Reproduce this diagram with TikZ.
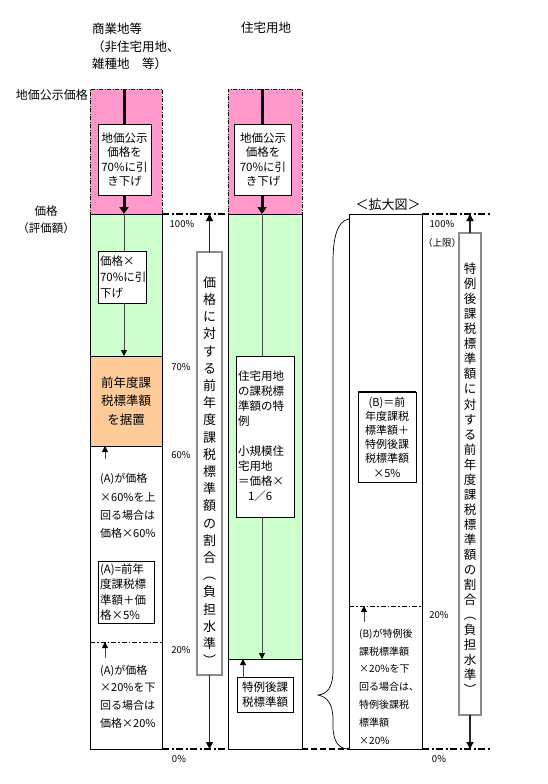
\documentclass[tikz,border=0pt]{standalone}
\usepackage{fontspec}
\setmainfont{Noto Sans CJK JP}
\usetikzlibrary{arrows.meta}
\definecolor{pinkc}{RGB}{255,153,204}
\definecolor{greenc}{RGB}{204,255,204}
\definecolor{orangec}{RGB}{255,204,153}
\definecolor{linegray}{RGB}{70,70,70}
\definecolor{vgray}{RGB}{140,140,140}
\newcommand{\fsz}[2]{\fontsize{#1}{#2}\selectfont}
\tikzset{
  region/.style={draw=black, line width=0.7pt, anchor=north west, inner sep=0pt, outer sep=0pt},
  pinkregion/.style={region, fill=pinkc, dash pattern=on 4pt off 1.5pt on 1pt off 1.5pt},
  txtbox/.style={draw=black, line width=0.7pt, fill=white, inner sep=0pt, font=\fsz{11.5}{14.5}},
  freetext/.style={inner sep=0pt, align=left, anchor=west},
  pct/.style={inner sep=0pt, font=\fsz{9.5}{12}},
  vbox/.style={draw=black!80, line width=0.4pt, double=vgray, double distance=1.6pt, fill=white, inner sep=0pt},
  vtext/.style={inner sep=0pt, align=center},
  bigarr/.style={line width=3pt, -{Triangle[length=7pt,width=9pt]}},
  bigline/.style={line width=3pt},
  thinline/.style={line width=0.9pt, draw=linegray},
  thinarr/.style={line width=0.9pt, draw=linegray, -{Triangle[length=6pt,width=6pt,color=black]}},
  axisarr/.style={line width=1.2pt, draw=black!85, -{Triangle[length=7pt,width=7pt,color=black]}},
  levelline/.style={line width=1.6pt, dash pattern=on 7pt off 2.5pt on 2pt off 2.5pt},
  thinlevel/.style={line width=0.7pt, dash pattern=on 5pt off 2pt on 1.5pt off 2pt},
  dashline/.style={line width=1.6pt, dash pattern=on 6pt off 3pt}
}
\begin{document}
\begin{tikzpicture}[x=1pt,y=-1pt]
\useasboundingbox (0,0) rectangle (548,784);
\fill[white] (0,0) rectangle (548,784);

% headers
\node[freetext, font=\fsz{12.5}{17.5}] (hdrL) at (92,46.5) {商業地等\\（非住宅用地、\\雑種地　等）};
\node[font=\fsz{12.5}{15}, inner sep=0pt] (hdrM) at (266,28) {住宅用地};
\node[anchor=east, font=\fsz{12}{15}, inner sep=0pt] (lblLP) at (88,95) {地価公示価格};
\node[font=\fsz{11.5}{17}, inner sep=0pt, align=center] (lblP) at (46,219.5) {価格\\（評価額）};

% left column
\node[pinkregion, minimum width=72, minimum height=125] (Lpink) at (90,89) {};
\node[region, fill=greenc, minimum width=72, minimum height=142] (Lgreen) at (90,214) {};
\node[region, fill=orangec, minimum width=72, minimum height=90] (Lorange) at (90,356) {};
\node[region, fill=white, minimum width=72, minimum height=303] (Lwhite) at (90,446) {};

\coordinate (Ltop) at (124,89);
\node[txtbox, minimum width=53, minimum height=71, align=center] (Lb1) at (124.5,159.5) {地価公示\\価格を\\70\%に引\\き下げ};
\draw[bigline] (Ltop) -- (Ltop |- Lb1.north);
\draw[bigarr] (Ltop |- Lb1.south) -- (Ltop |- Lgreen.north);
\node[txtbox, inner xsep=2pt, text width=44, minimum height=52, align=left, font=\fsz{11.5}{16}] (Lb2) at (122,277) {価格×\\70\%に引\\下げ};
\draw[thinline] (Ltop |- Lgreen.north) -- (Ltop |- Lb2.north);
\draw[thinarr] (Ltop |- Lb2.south) -- (Ltop |- Lorange.north);

\node[inner sep=0pt, align=center, font=\fsz{12.5}{18.5}] (Lotxt) at (126,401) {前年度課\\税標準額\\を据置};

\coordinate (LA1) at (105,459);
\draw[thinarr] (LA1) -- (LA1 |- Lorange.south);
\node[freetext, font=\fsz{11}{18.3}] (LtA) at (100,506) {(A)が価格\\×60\%を上\\回る場合は\\価格×60\%};

\node[txtbox, inner xsep=2pt, text width=52, minimum height=62, align=left, font=\fsz{11.5}{15.5}] (LbA) at (126,592) {(A)=前年\\度課税標\\準額＋価\\格×5\%};

\coordinate (L20) at (90,642);
\draw[thinlevel] (L20) -- (L20 -| Lwhite.east);
\coordinate (LA2) at (105,658);
\draw[thinarr] (LA2) -- (LA2 |- L20);
\node[freetext, font=\fsz{11}{17.7}] (LtB) at (100,696.5) {(A)が価格\\×20\%を下\\回る場合は\\価格×20\%};

% percentages left
\node[pct] (p100L) at (182,224) {100\%};
\node[pct] (p70) at (181,367) {70\%};
\node[pct] (p60) at (181,455) {60\%};
\node[pct] (p20L) at (181,650) {20\%};
\node[pct] (p0L) at (179,759) {0\%};

% middle column
\node[pinkregion, minimum width=74, minimum height=125] (Mpink) at (228,89) {};
\node[region, fill=greenc, minimum width=74, minimum height=445] (Mgreen) at (228,214) {};
\node[region, fill=white, minimum width=74, minimum height=90] (Mwhite) at (228,659) {};

\coordinate (Mtop) at (262,89);
\node[txtbox, minimum width=57, minimum height=71, align=center] (Mb1) at (263,159.5) {地価公示\\価格を\\70\%に引\\き下げ};
\draw[bigline] (Mtop) -- (Mtop |- Mb1.north);
\draw[bigarr] (Mtop |- Mb1.south) -- (Mtop |- Mgreen.north);
\node[txtbox, inner xsep=2pt, text width=54, minimum height=161, align=left, font=\fsz{11.5}{15}] (Mb2) at (265,436.5) {住宅用地\\の課税標\\準額の特\\例\\[15pt]小規模住\\宅用地\\＝価格×\\\hspace*{10pt}1／6};
\draw[thinline] (Mtop |- Mgreen.north) -- (Mtop |- Mb2.north);
\draw[thinarr] (Mtop |- Mb2.south) -- (Mtop |- Mwhite.north);

\node[txtbox, minimum width=56, minimum height=35, align=center, font=\fsz{11.5}{15}] (Mb3) at (265,694.5) {特例後課\\税標準額};
\coordinate (MA) at (243,0);
\draw[thinarr] (MA |- Mb3.north) -- (MA |- Mwhite.north);

% left vertical box
\node[vbox, minimum width=25, minimum height=423] (Lv) at (209.5,463.5) {};
\node[vtext, font=\fsz{13}{17.2}] (Lvt) at (209.5,471) {価\\格\\に\\対\\す\\る\\前\\年\\度\\課\\税\\標\\準\\額\\の\\割\\合\\︵\\負\\担\\水\\準\\︶};
\draw[axisarr] (Lv.north) -- (Lv.north |- Lgreen.north);
\draw[axisarr] (Lv.south) -- (Lv.south |- Lwhite.south);

% level lines left
\draw[levelline] (Lgreen.north east) -- (Mgreen.north west);
\draw[levelline] (Lwhite.south east) -- (Mwhite.south west);

% right enlarged view
\node[region, fill=white, minimum width=73, minimum height=535] (Rcol) at (349,214) {};
\node[font=\fsz{13}{15}, inner sep=0pt] (Rtitle) at (388,205) {＜拡大図＞};
\draw[line width=0.7pt] (349,219) .. controls (337,221) and (333,238) .. (333,262) -- (333,670) .. controls (333,688) and (327,694) .. (318,695) .. controls (327,697) and (333,703) .. (333,720) -- (333,726) .. controls (333,742) and (339,749) .. (349,749);
\draw[dashline] (Mwhite.south east) -- (Rcol.south west);

\node[txtbox, minimum width=58, minimum height=90, align=center, font=\fsz{11}{14.2}] (RB) at (387,437) {(B)＝前\\年度課税\\標準額＋\\特例後課\\税標準額\\×5\%};
\draw[line width=1.6pt] (RB.north west) -- (RB.north east);
\draw[line width=1.6pt] (RB.south west) -- (RB.south east);

\coordinate (R20) at (349,606);
\draw[thinlevel] (R20) -- (R20 -| Rcol.east);
\coordinate (RA) at (364,622);
\draw[thinarr] (RA) -- (RA |- R20);
\node[freetext, font=\fsz{10}{17.8}] (RtB) at (359,686.5) {(B)が特例後\\課税標準額\\×20\%を下\\回る場合は、\\特例後課税\\標準額\\×20\%};

\node[pct] (p100R) at (442,224) {100\%};
\node[pct] (pUL) at (442,243) {（上限）};
\node[pct] (p20R) at (439,615) {20\%};
\node[pct] (p0R) at (439,759) {0\%};

\coordinate (RtopEnd) at (490,214);
\coordinate (RbotEnd) at (490,749);
\draw[levelline] (Rcol.north east) -- (RtopEnd);
\draw[levelline] (Rcol.south east) -- (RbotEnd);

\node[vbox, minimum width=22, minimum height=482] (Rv) at (470,474) {};
\node[vtext, font=\fsz{12.5}{15.05}] (Rvt) at (470,479) {特\\例\\後\\課\\税\\標\\準\\額\\に\\対\\す\\る\\前\\年\\度\\課\\税\\標\\準\\額\\の\\割\\合\\︵\\負\\担\\水\\準\\︶};
\draw[axisarr] (Rv.north) -- (Rv.north |- Rcol.north);
\draw[axisarr] (Rv.south) -- (Rv.south |- Rcol.south);
\end{tikzpicture}
\end{document}
